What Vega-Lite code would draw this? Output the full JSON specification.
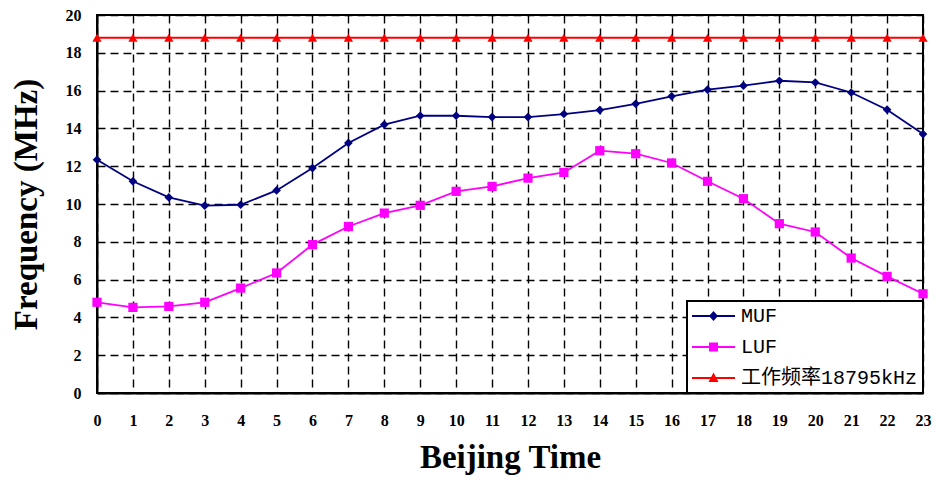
{
  "$schema": "https://vega.github.io/schema/vega-lite/v6.json",
  "width": 826,
  "height": 378,
  "autosize": {"type": "none"},
  "padding": {"left": 97, "top": 15, "right": 13, "bottom": 91},
  "background": "white",
  "config": {
    "view": {"stroke": "black", "strokeWidth": 2},
    "axis": {
      "grid": true,
      "gridColor": "black",
      "gridDash": [8, 5],
      "gridWidth": 1.4,
      "gridOpacity": 1,
      "domainColor": "black",
      "domainWidth": 2,
      "ticks": false,
      "labelFont": "Liberation Serif",
      "labelFontWeight": "bold",
      "labelFontSize": 16,
      "labelColor": "black",
      "titleFont": "Liberation Serif",
      "titleFontWeight": "bold",
      "titleFontSize": 33,
      "titleColor": "black"
    }
  },
  "data": {
    "values": [
      {"hour": 0, "series": "MUF", "value": 12.34},
      {"hour": 1, "series": "MUF", "value": 11.2},
      {"hour": 2, "series": "MUF", "value": 10.35},
      {"hour": 3, "series": "MUF", "value": 9.91},
      {"hour": 4, "series": "MUF", "value": 9.96},
      {"hour": 5, "series": "MUF", "value": 10.72},
      {"hour": 6, "series": "MUF", "value": 11.9},
      {"hour": 7, "series": "MUF", "value": 13.23},
      {"hour": 8, "series": "MUF", "value": 14.2},
      {"hour": 9, "series": "MUF", "value": 14.67},
      {"hour": 10, "series": "MUF", "value": 14.67},
      {"hour": 11, "series": "MUF", "value": 14.6},
      {"hour": 12, "series": "MUF", "value": 14.6},
      {"hour": 13, "series": "MUF", "value": 14.76},
      {"hour": 14, "series": "MUF", "value": 14.97},
      {"hour": 15, "series": "MUF", "value": 15.3},
      {"hour": 16, "series": "MUF", "value": 15.7},
      {"hour": 17, "series": "MUF", "value": 16.05},
      {"hour": 18, "series": "MUF", "value": 16.26},
      {"hour": 19, "series": "MUF", "value": 16.52},
      {"hour": 20, "series": "MUF", "value": 16.43},
      {"hour": 21, "series": "MUF", "value": 15.9},
      {"hour": 22, "series": "MUF", "value": 14.99},
      {"hour": 23, "series": "MUF", "value": 13.7},
      {"hour": 0, "series": "LUF", "value": 4.8},
      {"hour": 1, "series": "LUF", "value": 4.53},
      {"hour": 2, "series": "LUF", "value": 4.58},
      {"hour": 3, "series": "LUF", "value": 4.8},
      {"hour": 4, "series": "LUF", "value": 5.55},
      {"hour": 5, "series": "LUF", "value": 6.35},
      {"hour": 6, "series": "LUF", "value": 7.85},
      {"hour": 7, "series": "LUF", "value": 8.81},
      {"hour": 8, "series": "LUF", "value": 9.52},
      {"hour": 9, "series": "LUF", "value": 9.93},
      {"hour": 10, "series": "LUF", "value": 10.67},
      {"hour": 11, "series": "LUF", "value": 10.93},
      {"hour": 12, "series": "LUF", "value": 11.37},
      {"hour": 13, "series": "LUF", "value": 11.67},
      {"hour": 14, "series": "LUF", "value": 12.82},
      {"hour": 15, "series": "LUF", "value": 12.66},
      {"hour": 16, "series": "LUF", "value": 12.17},
      {"hour": 17, "series": "LUF", "value": 11.2},
      {"hour": 18, "series": "LUF", "value": 10.28},
      {"hour": 19, "series": "LUF", "value": 8.96},
      {"hour": 20, "series": "LUF", "value": 8.52},
      {"hour": 21, "series": "LUF", "value": 7.14},
      {"hour": 22, "series": "LUF", "value": 6.17},
      {"hour": 23, "series": "LUF", "value": 5.25},
      {"hour": 0, "series": "工作频率18795kHz", "value": 18.795},
      {"hour": 1, "series": "工作频率18795kHz", "value": 18.795},
      {"hour": 2, "series": "工作频率18795kHz", "value": 18.795},
      {"hour": 3, "series": "工作频率18795kHz", "value": 18.795},
      {"hour": 4, "series": "工作频率18795kHz", "value": 18.795},
      {"hour": 5, "series": "工作频率18795kHz", "value": 18.795},
      {"hour": 6, "series": "工作频率18795kHz", "value": 18.795},
      {"hour": 7, "series": "工作频率18795kHz", "value": 18.795},
      {"hour": 8, "series": "工作频率18795kHz", "value": 18.795},
      {"hour": 9, "series": "工作频率18795kHz", "value": 18.795},
      {"hour": 10, "series": "工作频率18795kHz", "value": 18.795},
      {"hour": 11, "series": "工作频率18795kHz", "value": 18.795},
      {"hour": 12, "series": "工作频率18795kHz", "value": 18.795},
      {"hour": 13, "series": "工作频率18795kHz", "value": 18.795},
      {"hour": 14, "series": "工作频率18795kHz", "value": 18.795},
      {"hour": 15, "series": "工作频率18795kHz", "value": 18.795},
      {"hour": 16, "series": "工作频率18795kHz", "value": 18.795},
      {"hour": 17, "series": "工作频率18795kHz", "value": 18.795},
      {"hour": 18, "series": "工作频率18795kHz", "value": 18.795},
      {"hour": 19, "series": "工作频率18795kHz", "value": 18.795},
      {"hour": 20, "series": "工作频率18795kHz", "value": 18.795},
      {"hour": 21, "series": "工作频率18795kHz", "value": 18.795},
      {"hour": 22, "series": "工作频率18795kHz", "value": 18.795},
      {"hour": 23, "series": "工作频率18795kHz", "value": 18.795}
    ]
  },
  "encoding": {
    "x": {
      "field": "hour",
      "type": "quantitative",
      "title": "Beijing Time",
      "scale": {"domain": [0, 23], "nice": false, "zero": false},
      "axis": {"values": [0,1,2,3,4,5,6,7,8,9,10,11,12,13,14,15,16,17,18,19,20,21,22,23], "labelPadding": 19, "titlePadding": 13, "labelFlush": false}
    },
    "y": {
      "field": "value",
      "type": "quantitative",
      "title": "Frequency (MHz)",
      "scale": {"domain": [0, 20], "nice": false},
      "axis": {"values": [0,2,4,6,8,10,12,14,16,18,20], "labelPadding": 16, "titlePadding": 22, "labelFlush": false}
    }
  },
  "layer": [
    {
      "mark": {"type": "line", "strokeWidth": 1.8},
      "encoding": {
        "color": {
          "field": "series",
          "type": "nominal",
          "sort": ["MUF", "LUF", "工作频率18795kHz"],
          "scale": {"domain": ["MUF", "LUF", "工作频率18795kHz"], "range": ["#000080", "#FF00FF", "#FF0000"]},
          "legend": {
            "title": null,
            "orient": "bottom-right",
            "offset": 0,
            "fillColor": "white",
            "strokeColor": "black",
            "padding": 5,
            "rowPadding": 11,
            "symbolSize": 400,
            "labelOffset": 29,
            "labelFont": "Liberation Mono, Noto Sans CJK SC",
            "labelFontSize": 20,
            "labelColor": "black",
            "labelLimit": 400,
            "encode": {
              "legend": {"update": {"strokeWidth": {"value": 2}}},
              "symbols": {
                "update": {
                  "shape": {"signal": "datum.value === 'MUF' ? 'M-1,-0.1H3.3V0.1H-1Z M1.15,-0.5L1.6,0L1.15,0.5L0.7,0Z' : datum.value === 'LUF' ? 'M-1,-0.1H3.3V0.1H-1Z M0.7,-0.45H1.6V0.45H0.7Z' : 'M-1,-0.1H3.3V0.1H-1Z M1.15,-0.55L1.65,0.4H0.65Z'"},
                  "fill": {"signal": "scale('color', datum.value)"},
                  "stroke": {"value": "transparent"},
                  "strokeWidth": {"value": 0},
                  "opacity": {"value": 1}
                }
              }
            }
          }
        }
      }
    },
    {
      "transform": [{"filter": {"field": "series", "equal": "MUF"}}],
      "mark": {"type": "point", "filled": true, "opacity": 1, "shape": "diamond", "size": 75, "color": "#000080"}
    },
    {
      "transform": [{"filter": {"field": "series", "equal": "LUF"}}],
      "mark": {"type": "point", "filled": true, "opacity": 1, "shape": "square", "size": 85, "color": "#FF00FF"}
    },
    {
      "transform": [{"filter": {"field": "series", "equal": "工作频率18795kHz"}}],
      "mark": {"type": "point", "filled": true, "opacity": 1, "shape": "triangle-up", "size": 85, "color": "#FF0000"}
    }
  ]
}
